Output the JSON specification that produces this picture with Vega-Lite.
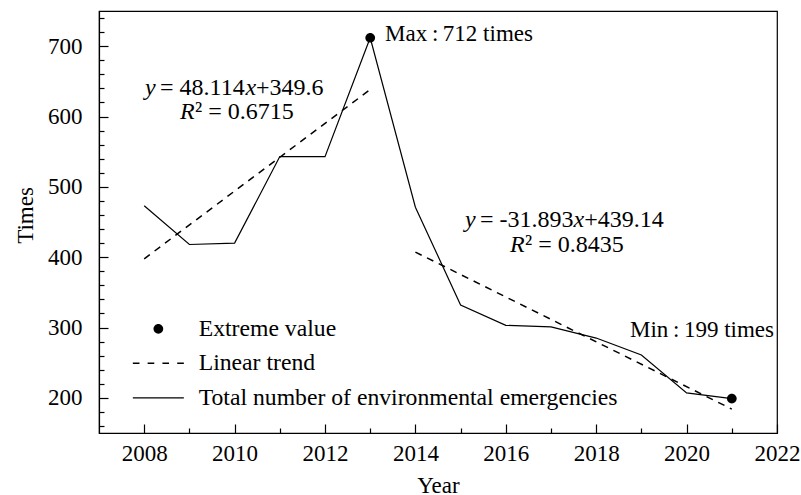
{
  "$schema": "https://vega.github.io/schema/vega-lite/v6.json",
  "width": 678,
  "height": 422,
  "autosize": "none",
  "padding": {"left": 99, "top": 11, "right": 24, "bottom": 62},
  "background": "white",
  "config": {
    "view": {"stroke": "black", "strokeWidth": 1.2},
    "font": "Liberation Serif"
  },
  "datasets": {
    "total": [
      {"year": 2008, "value": 473},
      {"year": 2009, "value": 418},
      {"year": 2010, "value": 420},
      {"year": 2011, "value": 543},
      {"year": 2012, "value": 543},
      {"year": 2013, "value": 712},
      {"year": 2014, "value": 471},
      {"year": 2015, "value": 332},
      {"year": 2016, "value": 303},
      {"year": 2017, "value": 301},
      {"year": 2018, "value": 285},
      {"year": 2019, "value": 261},
      {"year": 2020, "value": 207},
      {"year": 2021, "value": 199}
    ],
    "trend": [
      {"seg": "2008-2013", "year": 2008, "value": 397.7},
      {"seg": "2008-2013", "year": 2013, "value": 638.3},
      {"seg": "2014-2021", "year": 2014, "value": 407.2},
      {"seg": "2014-2021", "year": 2021, "value": 184.0}
    ],
    "extremes": [
      {"series": "Extreme value", "year": 2013, "value": 712},
      {"series": "Extreme value", "year": 2021, "value": 199}
    ],
    "notes": [
      {"year": 2013.33, "value": 718, "text": "Max\u2009:\u2009712 times"},
      {"year": 2018.748, "value": 296.4, "text": "Min\u2009:\u2009199 times"}
    ],
    "eqNormal": [
      {"year": 2008.350, "value": 640.5, "text": "=\u00a048.114"},
      {"year": 2010.473, "value": 640.5, "text": "+349.6"},
      {"year": 2009.124, "value": 606.4, "text": "\u00b2\u00a0=\u00a00.6715"},
      {"year": 2015.429, "value": 452.8, "text": "=\u00a0-31.893"},
      {"year": 2017.734, "value": 452.8, "text": "+439.14"},
      {"year": 2016.425, "value": 417.3, "text": "\u00b2\u00a0=\u00a00.8435"}
    ],
    "eqItalic": [
      {"year": 2008.018, "value": 640.5, "text": "y"},
      {"year": 2010.241, "value": 640.5, "text": "x"},
      {"year": 2008.792, "value": 606.4, "text": "R"},
      {"year": 2015.097, "value": 452.8, "text": "y"},
      {"year": 2017.498, "value": 452.8, "text": "x"},
      {"year": 2016.093, "value": 417.3, "text": "R"}
    ]
  },
  "layer": [
    {
      "data": {"name": "total"},
      "mark": {"type": "line", "color": "black", "strokeWidth": 1.2},
      "encoding": {
        "x": {
          "field": "year", "type": "quantitative",
          "scale": {"domain": [2007, 2022], "nice": false, "zero": false},
          "axis": {
            "title": "Year",
            "values": [2008, 2009, 2010, 2011, 2012, 2013, 2014, 2015, 2016, 2017, 2018, 2019, 2020, 2021, 2022],
            "tickCount": 1000,
            "format": "d",
            "labelExpr": "datum.value % 2 === 0 ? datum.label : ''",
            "tickSize": {"condition": {"test": "datum.value % 2 === 0", "value": -9}, "value": -5},
            "labelPadding": 18,
            "labelFlush": false,
            "labelOverlap": false,
            "grid": false,
            "domainColor": "black", "domainWidth": 1.2,
            "tickColor": "black", "tickWidth": 1.2,
            "labelColor": "black", "labelFont": "Liberation Serif", "labelFontSize": 23,
            "titleColor": "black", "titleFont": "Liberation Serif", "titleFontSize": 23, "titleFontWeight": "normal",
            "titlePadding": 5
          }
        },
        "y": {
          "field": "value", "type": "quantitative",
          "scale": {"domain": [150, 750], "nice": false, "zero": false},
          "axis": {
            "title": "Times",
            "titleY": 204,
            "values": [160, 180, 200, 220, 240, 260, 280, 300, 320, 340, 360, 380, 400, 420, 440, 460, 480, 500, 520, 540, 560, 580, 600, 620, 640, 660, 680, 700, 720, 740],
            "tickCount": 1000,
            "format": "d",
            "labelExpr": "datum.value % 100 === 0 ? datum.label : ''",
            "tickSize": {"condition": {"test": "datum.value % 100 === 0", "value": -9}, "value": -5},
            "labelPadding": 26,
            "labelFlush": false,
            "labelOverlap": false,
            "grid": false,
            "domainColor": "black", "domainWidth": 1.2,
            "tickColor": "black", "tickWidth": 1.2,
            "labelColor": "black", "labelFont": "Liberation Serif", "labelFontSize": 23,
            "titleColor": "black", "titleFont": "Liberation Serif", "titleFontSize": 23, "titleFontWeight": "normal",
            "titlePadding": 10
          }
        }
      }
    },
    {
      "data": {"name": "trend"},
      "mark": {"type": "line", "color": "black", "strokeWidth": 1.5, "strokeDash": [7, 6]},
      "encoding": {
        "x": {"field": "year", "type": "quantitative"},
        "y": {"field": "value", "type": "quantitative"},
        "detail": {"field": "seg"}
      }
    },
    {
      "data": {"name": "extremes"},
      "mark": {"type": "point", "filled": true, "color": "black", "size": 400, "opacity": 1},
      "encoding": {
        "x": {"field": "year", "type": "quantitative"},
        "y": {"field": "value", "type": "quantitative"},
        "shape": {
          "field": "series", "type": "nominal",
          "scale": {
            "domain": ["Extreme value", "Linear trend", "Total number of environmental emergencies"],
            "range": [
              "M-0.485,0A0.485,0.485,0,1,1,0.485,0A0.485,0.485,0,1,1,-0.485,0Z",
              "M-2.55,-0.077L-1.887,-0.077L-1.887,0.077L-2.55,0.077ZM-1.071,-0.077L-0.408,-0.077L-0.408,0.077L-1.071,0.077ZM0.408,-0.077L1.071,-0.077L1.071,0.077L0.408,0.077ZM1.887,-0.077L2.55,-0.077L2.55,0.077L1.887,0.077Z",
              "M-2.55,-0.061L2.55,-0.061L2.55,0.061L-2.55,0.061Z"
            ]
          },
          "legend": {
            "title": null,
            "orient": "none",
            "legendX": 47.5,
            "legendY": 306,
            "padding": 0,
            "symbolSize": 400,
            "symbolFillColor": "black",
            "symbolStrokeColor": "black",
            "symbolStrokeWidth": 0,
            "rowPadding": 9.5,
            "labelOffset": 28.5,
            "labelFont": "Liberation Serif",
            "labelFontSize": 23.7,
            "labelColor": "black",
            "labelLimit": 0,
            "encode": {
              "symbols": {
                "update": {
                  "fill": {"value": "black"},
                  "opacity": {"value": 1}
                }
              }
            }
          }
        }
      }
    },
    {
      "data": {"name": "notes"},
      "mark": {"type": "text", "align": "left", "baseline": "middle", "font": "Liberation Serif", "fontSize": 23, "color": "black"},
      "encoding": {
        "x": {"field": "year", "type": "quantitative"},
        "y": {"field": "value", "type": "quantitative"},
        "text": {"field": "text"}
      }
    },
    {
      "data": {"name": "eqNormal"},
      "mark": {"type": "text", "align": "left", "baseline": "middle", "font": "Liberation Serif", "fontSize": 24, "color": "black"},
      "encoding": {
        "x": {"field": "year", "type": "quantitative"},
        "y": {"field": "value", "type": "quantitative"},
        "text": {"field": "text"}
      }
    },
    {
      "data": {"name": "eqItalic"},
      "mark": {"type": "text", "align": "left", "baseline": "middle", "font": "Liberation Serif", "fontStyle": "italic", "fontSize": 24, "color": "black"},
      "encoding": {
        "x": {"field": "year", "type": "quantitative"},
        "y": {"field": "value", "type": "quantitative"},
        "text": {"field": "text"}
      }
    }
  ]
}
